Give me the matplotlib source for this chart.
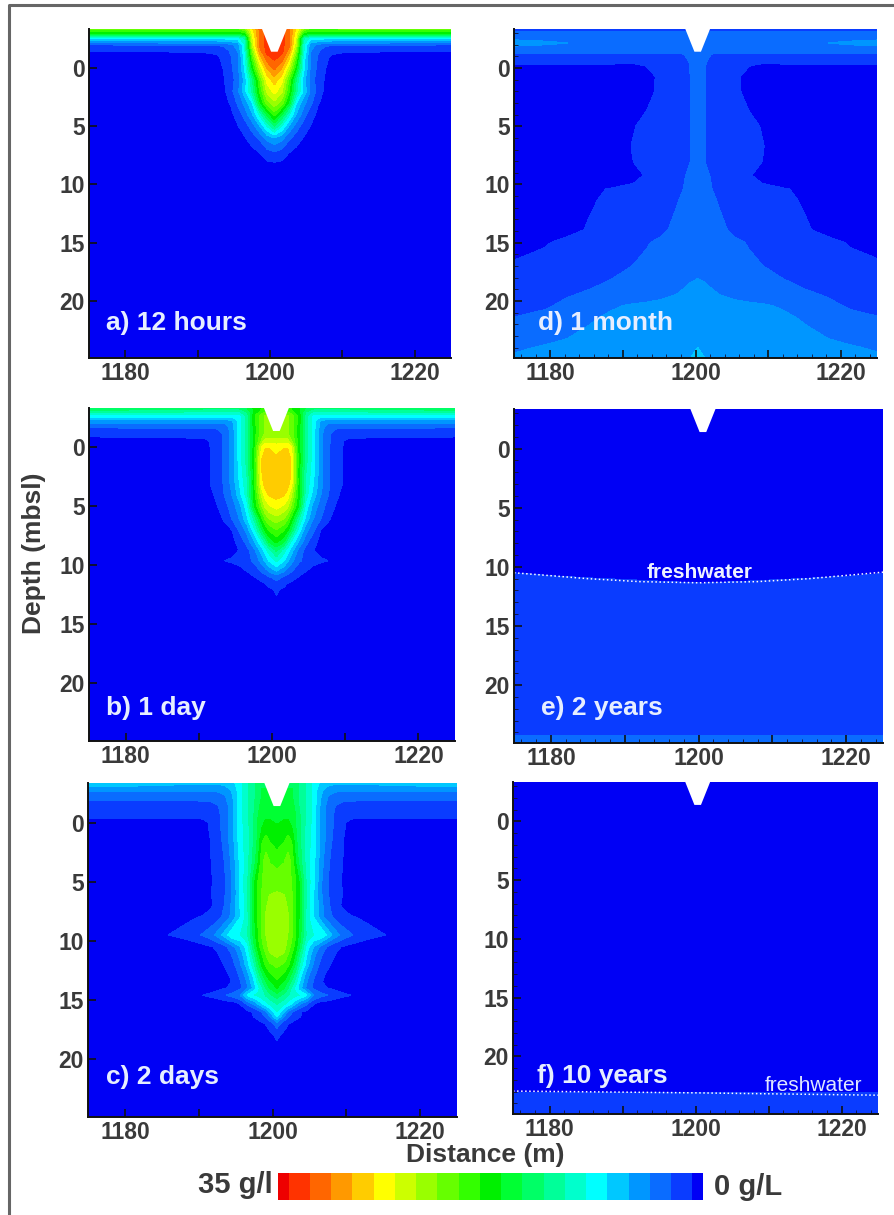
import numpy as np
import matplotlib
matplotlib.use("Agg")
import matplotlib.pyplot as plt
from matplotlib.colors import ListedColormap, BoundaryNorm
from matplotlib.lines import Line2D

plt.rcParams["font.family"] = ["Liberation Sans", "DejaVu Sans"]
plt.rcParams["font.weight"] = "bold"

W, H = 894, 1215

# colour bands of the legend, 0 g/L up to 35 g/L
band_colors = ["#0000f5", "#0a3cff", "#0a6cff", "#0096ff", "#00c8ff", "#00ffff", "#00ffcc",
               "#00ff99", "#00ff66", "#00ff33", "#00f000", "#33ff00", "#66ff00", "#99ff00",
               "#ccff00", "#ffff00", "#ffcc00", "#ff9900", "#ff6600", "#ff3300", "#ee0000"]
band_edges = [0, 0.875, 2.625, 4.375, 6.125, 7.875, 9.625, 11.375, 13.125, 14.875, 16.625, 18.375,
              20.125, 21.875, 23.625, 25.375, 27.125, 28.875, 30.625, 32.375, 34.125, 35]

x_labels = [1180, 1200, 1220]
y_labels = [0, 5, 10, 15, 20]

# salinity: rows are depths, columns distance from the channel centre
offsets_a = [0, 1, 2, 3, 4, 5, 6, 7, 8, 10, 26]
depths_a = [-3.4, -3, -2.6, -2, -1.5, -1, 0, 1, 2, 3, 4, 5, 6, 7, 8, 8.5, 24.9]
salinity_a = [
    [33, 33, 31, 27, 22, 20, 20, 20, 20, 21, 21],
    [33, 33, 31, 26, 18, 17, 17, 17, 17, 17, 17],
    [33, 33, 31, 25, 12, 9, 8.7, 8.7, 8.7, 8.7, 8.7],
    [33, 33, 31, 24, 10, 5, 4, 3, 2.8, 2.8, 2.6],
    [33, 33, 30, 22, 10, 4.5, 3, 1.5, 1.2, 1.1, 1],
    [33, 32, 28, 20, 9, 4, 2.5, 1.1, 0.7, 0.2, 0],
    [31, 29, 24, 17, 8.5, 4, 2.2, 0.95, 0, 0, 0],
    [28, 26, 20, 13, 7, 3.5, 1.8, 0.7, 0, 0, 0],
    [26, 24, 18.5, 12, 7.5, 4, 2, 0.4, 0, 0, 0],
    [23, 21, 16, 8, 5, 3, 1, 0.4, 0, 0, 0],
    [19, 15, 10, 6, 3.5, 1.5, 0.5, 0, 0, 0, 0],
    [13, 9.5, 6, 3.5, 1.8, 0.8, 0, 0, 0, 0, 0],
    [6, 5, 3, 1.8, 0.8, 0, 0, 0, 0, 0, 0],
    [3, 2.5, 1.2, 0.6, 0, 0, 0, 0, 0, 0, 0],
    [1, 0.8, 0, 0, 0, 0, 0, 0, 0, 0, 0],
    [0, 0, 0, 0, 0, 0, 0, 0, 0, 0, 0],
    [0, 0, 0, 0, 0, 0, 0, 0, 0, 0, 0],
]

offsets_b = [0, 1, 1.5, 2, 3, 4, 5, 6, 7, 8, 9, 10, 26]
depths_b = [-3.4, -3, -2.7, -2.3, -1.8, -1.2, -0.6, 0, 1, 2, 3, 4, 5, 6, 7, 8, 8.7, 9.6, 10.5, 11, 12, 12.5, 13, 24.9]
salinity_b = [
    [18, 18, 18, 18, 17, 15, 14, 14, 14, 14, 14, 14, 15],
    [20, 20, 20, 19, 17, 13, 11, 11, 11, 11, 11, 11, 12],
    [22, 22, 22, 21, 18, 12, 8.7, 8.7, 8.7, 8.7, 8.7, 8.7, 8.7],
    [22, 22, 22, 21, 18, 12, 8.7, 6, 5.5, 5.5, 5.5, 5.5, 5.5],
    [22, 22, 22, 21, 17.5, 12, 8.7, 5.5, 3.5, 3, 3, 3, 3],
    [22, 22, 22, 21, 17.5, 12, 8.7, 5, 3, 2, 1.7, 1.4, 1.2],
    [24, 24, 24, 22, 17.5, 12, 8.7, 5, 3, 1.8, 0.95, 0.6, 0.5],
    [26.5, 27, 27, 25.6, 17.5, 12, 8.7, 5, 3, 1.6, 0.875, 0, 0],
    [27.4, 28.2, 28.3, 27, 18, 12, 8.7, 5, 3, 1.6, 0.9, 0, 0],
    [28.6, 28.6, 28.4, 27, 17.5, 11.5, 8.5, 5, 3, 1.6, 0.9, 0, 0],
    [28.7, 28.5, 28.1, 26.3, 17.8, 11, 8, 5, 3, 1.6, 0.9, 0, 0],
    [27.8, 27.3, 26.3, 24, 17.5, 10.5, 7.2, 4.5, 2.8, 1.2, 0.6, 0, 0],
    [26, 25, 24, 21.5, 16.5, 8.8, 5.5, 3.5, 2, 0.875, 0, 0, 0],
    [23, 22, 20.5, 18, 12, 7.5, 4.5, 2.8, 1.2, 0.3, 0, 0, 0],
    [20, 18.5, 17, 14.5, 9, 5, 3, 0.9, 0.3, 0, 0, 0, 0],
    [17, 15, 12, 9.5, 6, 3.3, 1.4, 0.5, 0, 0, 0, 0, 0],
    [13.5, 10.5, 8.8, 7, 4, 2, 0.95, 0.3, 0, 0, 0, 0, 0],
    [10, 8, 6.5, 5, 3, 2, 1.4, 1.1, 0.875, 0, 0, 0, 0],
    [6, 4.5, 3.5, 2.8, 1.5, 0.9, 0.3, 0, 0, 0, 0, 0, 0],
    [3.2, 2.4, 1.8, 1.4, 0.8, 0, 0, 0, 0, 0, 0, 0, 0],
    [1.1, 0.6, 0, 0, 0, 0, 0, 0, 0, 0, 0, 0, 0],
    [0.875, 0, 0, 0, 0, 0, 0, 0, 0, 0, 0, 0, 0],
    [0, 0, 0, 0, 0, 0, 0, 0, 0, 0, 0, 0, 0],
    [0, 0, 0, 0, 0, 0, 0, 0, 0, 0, 0, 0, 0],
]

offsets_c = [0, 1, 1.5, 2, 2.5, 3, 4, 5, 6, 7, 8, 9, 10, 12, 15, 26]
depths_c = [-3.4, -2.8, -2.2, -1.4, -0.4, 0, 0.4, 1.4, 2.4, 3.2, 5, 6, 7, 8, 9.5, 10.5, 11, 12, 13, 13.5,
            14, 14.6, 15.3, 16, 16.4, 17, 18, 18.4, 18.7, 24.9]
salinity_c = [
    [14, 14, 14, 14, 13.5, 13, 11, 8.8, 7.5, 7, 6.5, 6.5, 6.5, 6.5, 7, 8],
    [15, 15, 15, 15, 14, 13, 11, 8.8, 6.5, 5, 4.8, 4.8, 4.8, 4.8, 4.8, 5],
    [15, 15, 15, 15, 14, 13, 11, 8.7, 6, 4.2, 3.5, 3.2, 3.2, 3, 3, 3],
    [15.5, 15.5, 15.5, 15.5, 14.5, 13, 11, 8.7, 5.5, 3.5, 2.5, 2, 2, 2, 2, 2],
    [16.5, 16.5, 16.5, 16, 15, 13.5, 11, 8.7, 5.5, 3.5, 2, 1.2, 0.95, 0.9, 0.9, 0.9],
    [16.5, 16.8, 16.8, 16.4, 15, 13.5, 11, 8.7, 5.5, 3.5, 2, 1, 0.6, 0.3, 0.2, 0.2],
    [16.8, 17, 17, 16.6, 15, 13.5, 10.5, 8.7, 5.5, 3.5, 2, 1, 0.5, 0, 0, 0],
    [17.5, 18, 19, 18, 15.5, 13.5, 10.5, 8.7, 5.5, 3.3, 1.8, 0.875, 0, 0, 0, 0],
    [18.4, 19.5, 20, 19, 16, 14, 10.5, 8.5, 5.2, 3, 1.6, 0.85, 0, 0, 0, 0],
    [19.5, 20, 20.8, 19.5, 16.5, 14.2, 10.5, 8.2, 5, 2.8, 1.5, 0.8, 0, 0, 0, 0],
    [21, 21, 20.8, 20, 18.6, 16.5, 11, 8, 4.5, 2.5, 1.3, 0.7, 0, 0, 0, 0],
    [22, 21.8, 21.2, 20.2, 18.6, 16.5, 11, 7.8, 4.5, 2.6, 1.4, 0.8, 0, 0, 0, 0],
    [22.5, 22.3, 21.6, 20.4, 18.6, 16.5, 11, 7.8, 4.8, 2.8, 1.3, 0.6, 0, 0, 0, 0],
    [23, 22.7, 22, 20.6, 18.6, 16.5, 10.5, 7.8, 5, 3.2, 2, 1.4, 1, 0.6, 0, 0],
    [23, 22.7, 21.8, 20.4, 18.5, 16, 11, 9.5, 9.5, 7, 5, 3.5, 2.8, 1.5, 0.8, 0],
    [23, 22.3, 21, 19.5, 17.5, 15, 8.8, 6, 3.8, 2.2, 1.2, 0.7, 0.3, 0, 0, 0],
    [22.7, 21.8, 20.3, 18.6, 16.5, 13.5, 8.2, 5, 3, 1.6, 0.875, 0, 0, 0, 0, 0],
    [20.5, 19.8, 18.7, 17, 14.5, 11.5, 7, 4, 2, 1, 0.4, 0, 0, 0, 0, 0],
    [19, 17.5, 16, 14, 11.8, 8.75, 5, 2.8, 1.1, 0.5, 0, 0, 0, 0, 0, 0],
    [17.8, 16, 14.5, 12.5, 10.5, 8, 4.5, 2.3, 0.95, 0.5, 0, 0, 0, 0, 0, 0],
    [16.6, 14.8, 13, 11, 9, 7, 4, 2.3, 1.2, 0.8, 0.5, 0.3, 0, 0, 0, 0],
    [14, 12.5, 11.5, 10.5, 10, 9.6, 8, 4.2, 3.2, 2.5, 1.5, 1.1, 0.875, 0, 0, 0],
    [11.5, 10, 9, 8, 6.5, 5, 3, 0.95, 0, 0, 0, 0, 0, 0, 0, 0],
    [9.5, 6, 4, 2.8, 1.8, 1.1, 0.5, 0, 0, 0, 0, 0, 0, 0, 0, 0],
    [8, 4, 2.8, 2, 1.4, 1, 0.3, 0, 0, 0, 0, 0, 0, 0, 0, 0],
    [3.5, 1.5, 0.95, 0.6, 0.3, 0, 0, 0, 0, 0, 0, 0, 0, 0, 0, 0],
    [1.2, 0.4, 0, 0, 0, 0, 0, 0, 0, 0, 0, 0, 0, 0, 0, 0],
    [0.875, 0, 0, 0, 0, 0, 0, 0, 0, 0, 0, 0, 0, 0, 0, 0],
    [0, 0, 0, 0, 0, 0, 0, 0, 0, 0, 0, 0, 0, 0, 0, 0],
    [0, 0, 0, 0, 0, 0, 0, 0, 0, 0, 0, 0, 0, 0, 0, 0],
]

offsets_d = [0, 1, 2, 3, 5, 7, 9, 12, 15, 18, 21, 26]
depths_d = [-3.4, -3, -2.5, -2.15, -1.8, -1.5, -1.2, -0.5, -0.2, 0.7, 2, 5, 6.7, 8.1, 9.2, 9.9, 10.4, 11.3, 13.9, 15,
            16.7, 18.1, 19, 20.4, 21.5, 24, 24.9]
salinity_d = [
    [2, 2, 2, 2, 2, 2, 2, 2, 2, 2, 2, 2],
    [3, 3, 3, 3, 3, 3, 3, 3, 3, 3, 3, 3],
    [3.6, 3.6, 3.6, 3.6, 3.6, 3.6, 3.6, 3.6, 3.7, 3.8, 3.9, 4.2],
    [3.6, 3.6, 3.6, 3.6, 3.6, 3.6, 3.6, 3.7, 3.9, 4.375, 4.7, 5],
    [3.5, 3.5, 3.5, 3.5, 3.5, 3.5, 3.5, 3.5, 3.6, 3.7, 3.9, 4.2],
    [3, 3, 3, 3, 3, 3, 3, 3, 3, 3, 3, 3],
    [3.4, 2.8, 2.6, 2.5, 2.5, 2.5, 2.5, 2.5, 2.5, 2.5, 2.5, 2.5],
    [3.4, 2.7, 2.2, 1.8, 1.4, 1.1, 0.95, 0.95, 0.95, 0.95, 0.95, 0.95],
    [3.4, 2.7, 2, 1.6, 1.2, 0.9, 0.7, 0.8, 0.8, 0.8, 0.8, 0.8],
    [3.4, 2.625, 2, 1.6, 1, 0.7, 0.4, 0.2, 0.1, 0.1, 0.1, 0.1],
    [3.4, 2.625, 2.1, 1.7, 1.1, 0.6, 0.3, 0, 0, 0, 0, 0],
    [3.4, 2.625, 2.2, 1.9, 1.5, 1.1, 0.8, 0.3, 0, 0, 0, 0],
    [3.4, 2.625, 2.2, 1.9, 1.6, 1.2, 0.9, 0.3, 0, 0, 0, 0],
    [3.4, 2.625, 2.2, 1.9, 1.6, 1.1, 0.85, 0.2, 0, 0, 0, 0],
    [3.6, 3, 2.4, 2, 1.5, 0.95, 0.6, 0.2, 0, 0, 0, 0],
    [3.7, 3.2, 2.5, 2.1, 1.6, 1.1, 0.85, 0.3, 0, 0, 0, 0],
    [3.7, 3.2, 2.6, 2.2, 1.7, 1.4, 1.2, 0.95, 0.6, 0.2, 0, 0],
    [3.8, 3.4, 2.9, 2.4, 1.8, 1.5, 1.3, 1.05, 0.75, 0.3, 0, 0],
    [4.1, 3.9, 3.5, 3.1, 2.2, 1.7, 1.5, 1.2, 0.95, 0.6, 0.3, 0],
    [4.2, 4, 3.7, 3.4, 3, 2.5, 2, 1.5, 1.2, 1.1, 0.8, 0.4],
    [4.3, 4.1, 3.9, 3.6, 3.2, 2.9, 2.55, 2, 1.6, 1.3, 1.1, 0.875],
    [4.375, 4.3, 4.1, 3.9, 3.5, 3.1, 2.9, 2.6, 2.1, 1.6, 1.3, 1.1],
    [4.7, 4.5, 4.375, 4.1, 3.8, 3.5, 3.2, 2.9, 2.6, 2.2, 1.7, 1.4],
    [5.2, 5.1, 5, 4.9, 4.7, 4.6, 4.5, 4.2, 3.6, 3, 2.4, 2],
    [5.5, 5.4, 5.3, 5.2, 5, 4.9, 4.8, 4.6, 4.2, 3.6, 3.1, 2.625],
    [6.1, 6, 5.9, 5.8, 5.6, 5.5, 5.3, 5.1, 4.9, 4.7, 4.5, 4.1],
    [6.8, 6.1, 5.9, 5.8, 5.6, 5.5, 5.4, 5.3, 5.1, 4.9, 4.7, 4.5],
]

offsets_e = [0, 10, 20, 26]
depths_e = [-3.4, 9.5, 10, 10.5, 11, 11.4, 12, 24.2, 24.4, 24.9]
salinity_e = [
    [0, 0, 0, 0],
    [0, 0, 0, 0],
    [0.2, 0.2, 0.4, 0.6],
    [0.4, 0.5, 0.7, 0.875],
    [0.7, 0.8, 1, 1.2],
    [0.875, 1.1, 1.3, 1.4],
    [1.5, 1.5, 1.5, 1.5],
    [2.4, 2.4, 2.4, 2.4],
    [2.7, 2.7, 2.7, 2.7],
    [3, 3, 3, 3],
]

offsets_f = [0, 26]
depths_f = [-3.4, 22.6, 23.1, 23.6, 24.9]
salinity_f = [
    [0, 0],
    [0, 0],
    [0.875, 0.875],
    [1.5, 1.5],
    [2, 2],
]

# white channel cut into the top of each panel
notch_x = [-1.8, -0.45, 0.45, 1.8]
notch_depth = [-3.5, -1.4, -1.4, -3.5]
notch_centre = [1200.6, 1200.6, 1200.6, 1200.3, 1200.6, 1200.3]

# dotted freshwater limit
fresh_e_x = [1175, 1185, 1192, 1200, 1208, 1215, 1225]
fresh_e_depth = [10.5, 11.0, 11.25, 11.35, 11.25, 11.0, 10.45]
fresh_f_x = [1175, 1200, 1225]
fresh_f_depth = [22.95, 23.1, 23.3]

names = ["a) 12 hours", "b) 1 day", "c) 2 days", "d) 1 month", "e) 2 years", "f) 10 years"]
panels = [(offsets_a, depths_a, salinity_a), (offsets_b, depths_b, salinity_b), (offsets_c, depths_c, salinity_c),
          (offsets_d, depths_d, salinity_d), (offsets_e, depths_e, salinity_e), (offsets_f, depths_f, salinity_f)]

# panel boxes in pixels: left, right, top, bottom
boxes = [(89, 451, 29, 358), (89, 455, 408, 741), (88, 457, 783, 1117),
         (514, 877, 29, 358), (514, 883, 409, 743), (513, 878, 782, 1114)]
# where the panel names start, in pixels
name_px = [(106, 323), (106, 708), (106, 1077), (538, 323), (541, 708), (537, 1076)]

cmap = ListedColormap(band_colors)
norm = BoundaryNorm(band_edges, cmap.N)
text_grey = "#3a3a3a"


def px_axes(left, right, top, bottom):
    return fig.add_axes([left / W, 1 - bottom / H, (right - left) / W, (bottom - top) / H])


fig = plt.figure(figsize=(W / 100, H / 100), dpi=100, facecolor="white")

for i in range(6):
    offsets, depths, sal = panels[i]
    sal = np.array(sal, dtype=float)
    c = notch_centre[i]
    # mirror the half section around the channel
    off = np.array(offsets, dtype=float)
    xx = np.concatenate([c - off[:0:-1], c + off])
    zz = np.hstack([sal[:, :0:-1], sal])
    zz = np.clip(zz, 0, 34.99)

    ax = px_axes(*boxes[i])
    cs = ax.contourf(xx, depths, zz, levels=band_edges, cmap=cmap, norm=norm)
    cs.set_edgecolor("face")
    cs.set_linewidth(0.3)
    ax.fill(c + np.array(notch_x), notch_depth, color="white", lw=0, zorder=3)

    ax.set_xlim(1175, 1225)
    ax.set_ylim(24.9, -3.35)
    ax.set_xticks(np.arange(1180, 1221, 10))
    ax.set_xticklabels([str(v) if v in x_labels else "" for v in np.arange(1180, 1221, 10)])
    ax.set_yticks(y_labels)
    ax.tick_params(axis="both", which="major", direction="in", length=6, width=1.2, color="#111111",
                   labelsize=16.5, labelcolor=text_grey, pad=3)
    if i >= 3:
        ax.set_xticks(np.arange(1176, 1225, 2), minor=True)
        ax.set_yticks(np.arange(-3, 25, 1), minor=True)
        ax.tick_params(axis="both", which="minor", direction="in", length=3, width=0.6, color="#111133")
    for side in ["top", "right"]:
        ax.spines[side].set_visible(False)
    for side in ["left", "bottom"]:
        ax.spines[side].set_linewidth(1.4)
        ax.spines[side].set_color("#111111")
        ax.spines[side].set_zorder(5)
    fig.text(name_px[i][0] / W, 1 - name_px[i][1] / H, names[i], color="#e6eeff", fontsize=19,
             va="center", ha="left", zorder=6)

    if i == 4:
        ax.plot(fresh_e_x, fresh_e_depth, color="white", ls=":", lw=1.1, zorder=4)
        ax.text(1200.2, 10.45, "freshwater", color="#eef2ff", fontsize=15, ha="center", va="center", zorder=6)
    if i == 5:
        ax.plot(fresh_f_x, fresh_f_depth, color="white", ls=":", lw=1.1, zorder=4)
        ax.text(1216.1, 22.5, "freshwater", color="#dfe7ff", fontsize=15, fontweight="normal", ha="center", va="center", zorder=6)

# legend bar, high values on the left
cax = px_axes(278, 703, 1173, 1200)
cax.pcolormesh(band_edges, [0, 1], np.arange(len(band_colors)).reshape(1, -1),
               cmap=cmap, vmin=-0.5, vmax=len(band_colors) - 0.5)
cax.set_xlim(35, 0)
cax.axis("off")

fig.text(273 / W, 1 - 1185 / H, "35 g/l", color=text_grey, fontsize=21, ha="right", va="center")
fig.text(714 / W, 1 - 1187 / H, "0 g/L", color=text_grey, fontsize=21, ha="left", va="center")
fig.text(485 / W, 1 - 1155 / H, "Distance (m)", color=text_grey, fontsize=19, ha="center", va="center")
fig.text(34 / W, 1 - 553 / H, "Depth (mbsl)", color=text_grey, fontsize=19, rotation=90, ha="center", va="center")

# outer frame
fig.add_artist(Line2D([9 / W, 9 / W, 1], [0, 1 - 5 / H, 1 - 5 / H], color="#666666", lw=2.2))

fig.savefig("out.png", dpi=100)
